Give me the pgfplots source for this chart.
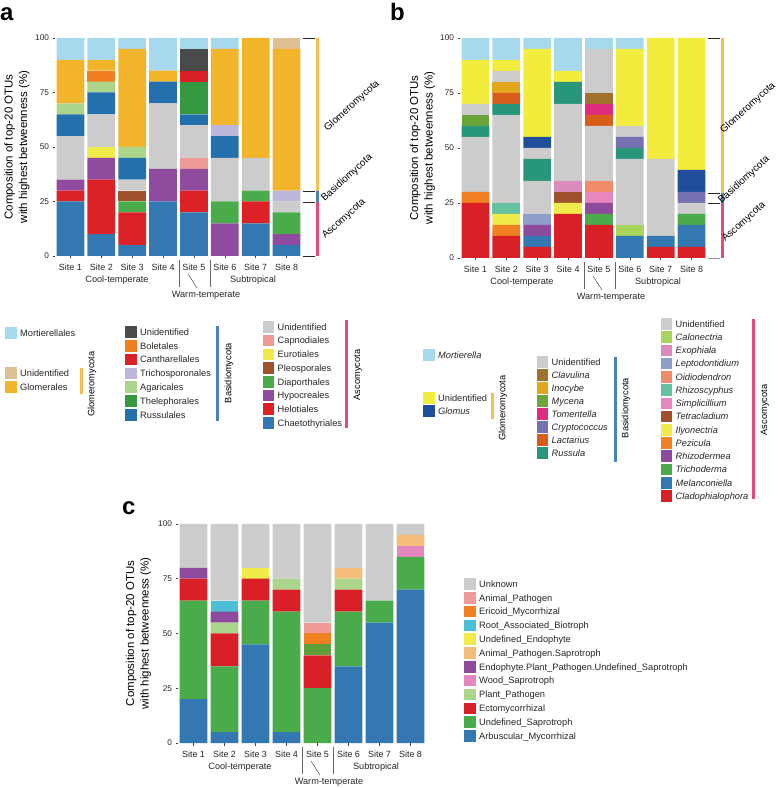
\documentclass[border=0pt]{standalone}
\usepackage{pgfplots}
\pgfplotsset{compat=1.18}
\usepackage{fontspec}
\setmainfont{Liberation Sans}
% panel a colours
\definecolor{mort}{HTML}{A6D8EE}
\definecolor{glomUnid}{HTML}{DFC095}
\definecolor{glomerales}{HTML}{F2B42A}
\definecolor{basUnid}{HTML}{4A4A4A}
\definecolor{bolet}{HTML}{F07F22}
\definecolor{canth}{HTML}{D92027}
\definecolor{tricho}{HTML}{BDB6DA}
\definecolor{agari}{HTML}{ACD58C}
\definecolor{thele}{HTML}{37993F}
\definecolor{russul}{HTML}{2470AC}
\definecolor{ascUnid}{HTML}{CCCCCC}
\definecolor{capno}{HTML}{F09A97}
\definecolor{euro}{HTML}{F0EA4A}
\definecolor{pleo}{HTML}{A0522D}
\definecolor{diapor}{HTML}{4AAB4A}
\definecolor{hypo}{HTML}{8F4B9E}
\definecolor{helot}{HTML}{DC2127}
\definecolor{chaeto}{HTML}{3478B1}
% panel b colours
\definecolor{glomUnidB}{HTML}{F2EC3C}
\definecolor{glomus}{HTML}{1F4E9D}
\definecolor{clavulina}{HTML}{A0712C}
\definecolor{inocybe}{HTML}{E3A71C}
\definecolor{mycena}{HTML}{6AA53A}
\definecolor{tomentella}{HTML}{DF2C80}
\definecolor{crypto}{HTML}{7570B1}
\definecolor{lactarius}{HTML}{D95D1A}
\definecolor{russula}{HTML}{27967A}
\definecolor{calonec}{HTML}{A8D45A}
\definecolor{exoph}{HTML}{DB8BBD}
\definecolor{lepto}{HTML}{8D9FC8}
\definecolor{oidio}{HTML}{F08C6B}
\definecolor{rhizoscy}{HTML}{66C0A2}
\definecolor{simplic}{HTML}{E886BE}
\definecolor{tetra}{HTML}{A0522D}
\definecolor{ilyonec}{HTML}{F0EA4A}
\definecolor{pezicula}{HTML}{F08022}
\definecolor{rhizoderm}{HTML}{8E4A9C}
\definecolor{trichod}{HTML}{4AAA4C}
\definecolor{melanc}{HTML}{3478B1}
\definecolor{clado}{HTML}{D92027}
% panel c colours
\definecolor{unknown}{HTML}{CCCCCC}
\definecolor{animalPath}{HTML}{F19B99}
\definecolor{ericoid}{HTML}{F08022}
\definecolor{rootab}{HTML}{4BBFD6}
\definecolor{undefEndo}{HTML}{F0EA4A}
\definecolor{animalPathSap}{HTML}{F5BD7A}
\definecolor{endoPlant}{HTML}{8E4A9C}
\definecolor{wood}{HTML}{E587BE}
\definecolor{plantPath}{HTML}{ACD58C}
\definecolor{ecto}{HTML}{D92027}
\definecolor{extraGreen}{HTML}{5F9F3A}
\definecolor{undefSap}{HTML}{4AAB4A}
\definecolor{arbusc}{HTML}{3478B1}
% phylum colours
\definecolor{phGlom}{HTML}{F3C04B}
\definecolor{phBas}{HTML}{4A80B8}
\definecolor{phAsc}{HTML}{E04A7F}

\newcommand\ser[9]{\addplot[fill=#1,draw=none] coordinates {(0,#2)(1,#3)(2,#4)(3,#5)(4,#6)(5,#7)(6,#8)(7,#9)};}
\newcommand\lgfont{\fontsize{9.3}{11}\selectfont}
\newcommand\lgd[4]{\fill[#1] ({#2-5.8},{#3-5.8}) rectangle ({#2+5.8},{#3+5.8});
  \node[anchor=base west,inner sep=0pt,font=\lgfont,text=black!85] at ({#2+9},{#3+3.3}) {#4};}
\newcommand\grp[2]{%
  \node[font=\fontsize{9.2}{10}\selectfont,text=black!85] at ({#1+62},{#2+24.5}) {Cool-temperate};
  \node[font=\fontsize{9.2}{10}\selectfont,text=black!85] at ({#1+198},{#2+24.5}) {Subtropical};
  \node[font=\fontsize{9.2}{10}\selectfont,text=black!85] at ({#1+151},{#2+39}) {Warm-temperate};
  \draw[black!60,line width=0.6pt] ({#1+124},{#2+4}) -- ({#1+124},{#2+31});
  \draw[black!60,line width=0.6pt] ({#1+155},{#2+4}) -- ({#1+155},{#2+31});
  \draw[black!70,line width=0.5pt] ({#1+133},{#2+18}) -- ({#1+142},{#2+32});}
\newcommand\ylab[2]{\node[rotate=90,align=center,font=\fontsize{11.5}{14.5}\selectfont] at (#1,#2) {Composition of top-20 OTUs\\with highest betweenness (\%)};}
\newcommand\phy[3]{\node[rotate=42,font=\fontsize{10}{11}\selectfont] at (#1,#2) {#3};}

\pgfplotsset{panel/.style={scale only axis, anchor=south west, ybar stacked, bar width=0.9,
  xmin=-0.5, xmax=7.5, ymin=0, ymax=100, ytick={0,25,50,75,100}, xtick={0,...,7},
  xticklabels={Site 1,Site 2,Site 3,Site 4,Site 5,Site 6,Site 7,Site 8},
  axis line style={draw=none}, tick pos=left, tick align=outside, major tick length=2.5bp,
  tick style={black!75,line width=0.6pt},
  yticklabel style={font=\fontsize{8.3}{9}\selectfont,text=black!85},
  xticklabel style={font=\fontsize{9}{10}\selectfont,text=black!85,yshift=-1.5bp},
  /pgf/number format/assume math mode=true, clip=false, enlargelimits=false}}

\begin{document}
\begin{tikzpicture}
\path[use as bounding box] (0,0) rectangle (778bp,788bp);
% ---------------- panel a
\begin{axis}[panel, at={(55bp,532bp)}, width=247bp, height=218bp]
\ser{chaeto}{25}{10}{5}{25}{20}{0}{15}{5}
\ser{helot}{5}{25}{15}{0}{10}{0}{10}{0}
\ser{hypo}{5}{10}{0}{15}{10}{15}{0}{5}
\ser{diapor}{0}{0}{5}{0}{0}{10}{5}{10}
\ser{pleo}{0}{0}{5}{0}{0}{0}{0}{0}
\ser{euro}{0}{5}{0}{0}{0}{0}{0}{0}
\ser{capno}{0}{0}{0}{0}{5}{0}{0}{0}
\ser{ascUnid}{20}{15}{5}{30}{15}{20}{15}{5}
\ser{russul}{10}{10}{10}{10}{5}{10}{0}{0}
\ser{thele}{0}{0}{0}{0}{15}{0}{0}{0}
\ser{agari}{5}{5}{5}{0}{0}{0}{0}{0}
\ser{tricho}{0}{0}{0}{0}{0}{5}{0}{5}
\ser{canth}{0}{0}{0}{0}{5}{0}{0}{0}
\ser{bolet}{0}{5}{0}{0}{0}{0}{0}{0}
\ser{basUnid}{0}{0}{0}{0}{10}{0}{0}{0}
\ser{glomerales}{20}{5}{45}{5}{0}{35}{55}{65}
\ser{glomUnid}{0}{0}{0}{0}{0}{0}{0}{5}
\ser{mort}{10}{10}{5}{15}{5}{5}{0}{0}
\end{axis}
% ---------------- panel b
\begin{axis}[panel, at={(460bp,530bp)}, width=247bp, height=220bp]
\ser{clado}{25}{10}{5}{20}{15}{0}{5}{5}
\ser{melanc}{0}{0}{5}{0}{0}{10}{5}{10}
\ser{trichod}{0}{0}{0}{0}{5}{0}{0}{5}
\ser{rhizoderm}{0}{0}{5}{0}{5}{0}{0}{0}
\ser{pezicula}{5}{5}{0}{0}{0}{0}{0}{0}
\ser{ilyonec}{0}{5}{0}{5}{0}{0}{0}{0}
\ser{tetra}{0}{0}{0}{5}{0}{0}{0}{0}
\ser{simplic}{0}{0}{0}{0}{5}{0}{0}{0}
\ser{rhizoscy}{0}{5}{0}{0}{0}{0}{0}{0}
\ser{oidio}{0}{0}{0}{0}{5}{0}{0}{0}
\ser{lepto}{0}{0}{5}{0}{0}{0}{0}{0}
\ser{exoph}{0}{0}{0}{5}{0}{0}{0}{0}
\ser{calonec}{0}{0}{0}{0}{0}{5}{0}{0}
\ser{ascUnid}{25}{40}{15}{35}{25}{30}{35}{5}
\ser{russula}{5}{5}{10}{10}{0}{5}{0}{0}
\ser{lactarius}{0}{5}{0}{0}{5}{0}{0}{0}
\ser{crypto}{0}{0}{0}{0}{0}{5}{0}{5}
\ser{tomentella}{0}{0}{0}{0}{5}{0}{0}{0}
\ser{mycena}{5}{0}{0}{0}{0}{0}{0}{0}
\ser{inocybe}{0}{5}{0}{0}{0}{0}{0}{0}
\ser{clavulina}{0}{0}{0}{0}{5}{0}{0}{0}
\ser{ascUnid}{5}{5}{5}{0}{20}{5}{0}{0}
\ser{glomus}{0}{0}{5}{0}{0}{0}{0}{10}
\ser{glomUnidB}{20}{5}{40}{5}{0}{35}{55}{60}
\ser{mort}{10}{10}{5}{15}{5}{5}{0}{0}
\end{axis}
% ---------------- panel c
\begin{axis}[panel, at={(178bp,45bp)}, width=248bp, height=219bp]
\ser{arbusc}{20}{5}{45}{5}{0}{35}{55}{70}
\ser{undefSap}{45}{30}{20}{55}{25}{25}{10}{15}
\ser{ecto}{10}{15}{10}{10}{15}{10}{0}{0}
\ser{extraGreen}{0}{0}{0}{0}{5}{0}{0}{0}
\ser{plantPath}{0}{5}{0}{5}{0}{5}{0}{0}
\ser{wood}{0}{0}{0}{0}{0}{0}{0}{5}
\ser{endoPlant}{5}{5}{0}{0}{0}{0}{0}{0}
\ser{animalPathSap}{0}{0}{0}{0}{0}{5}{0}{5}
\ser{undefEndo}{0}{0}{5}{0}{0}{0}{0}{0}
\ser{rootab}{0}{5}{0}{0}{0}{0}{0}{0}
\ser{ericoid}{0}{0}{0}{0}{5}{0}{0}{0}
\ser{animalPath}{0}{0}{0}{0}{5}{0}{0}{0}
\ser{unknown}{20}{35}{20}{25}{45}{20}{35}{5}
\end{axis}
% ---------------- annotations (top-left origin, 1 unit = 1 px)
\begin{scope}[x=1bp,y=-1bp,yshift=788bp]
\node[anchor=base west,font=\fontsize{24}{24}\selectfont\bfseries,inner sep=0pt] at (0,21) {a};
\node[anchor=base west,font=\fontsize{24}{24}\selectfont\bfseries,inner sep=0pt] at (390,21) {b};
\node[anchor=base west,font=\fontsize{24}{24}\selectfont\bfseries,inner sep=0pt] at (122,515) {c};
\ylab{17}{147}
\ylab{422.5}{148}
\ylab{138.5}{633.5}
\grp{55}{256}
\grp{460}{258}
\grp{178}{743}
% bracket a
\foreach \yy in {38,191,202,256} \draw[black!85,line width=0.7pt] (303,\yy) -- (315,\yy);
\fill[phGlom] (316,38) rectangle (319,191);
\fill[phBas] (316,191) rectangle (319,202);
\fill[phAsc] (316,202) rectangle (319,256);
\phy{352}{106}{Glomeromycota}
\phy{347}{178}{Basidiomycota}
\phy{344}{219}{Ascomycota}
% bracket b
\foreach \yy in {38,193,203} \draw[black!85,line width=0.7pt] (708,\yy) -- (720,\yy);
\draw[black!40,line width=0.7pt] (708,258) -- (720,258);
\fill[phGlom] (721,38) rectangle (724,193);
\fill[phBas] (721,193) rectangle (724,203);
\fill[phAsc] (721,203) rectangle (724,258);
\phy{748}{108}{Glomeromycota}
\phy{744}{180}{Basidiomycota}
\phy{744}{222}{Ascomycota}
% legend a
\lgd{mort}{11}{333}{Mortierellales}
\lgd{glomUnid}{11}{373}{Unidentified}
\lgd{glomerales}{11}{387}{Glomerales}
\fill[phGlom] (80,368) rectangle (82.5,394);
\node[rotate=90,font=\lgfont] at (92,384) {Glomeromycota};
\lgd{basUnid}{131}{332}{Unidentified}
\lgd{bolet}{131}{345.8}{Boletales}
\lgd{canth}{131}{359.7}{Cantharellales}
\lgd{tricho}{131}{373.5}{Trichosporonales}
\lgd{agari}{131}{387.3}{Agaricales}
\lgd{thele}{131}{401.2}{Thelephorales}
\lgd{russul}{131}{415}{Russulales}
\fill[phBas] (216,326) rectangle (218.5,421);
\node[rotate=90,font=\lgfont] at (229,373) {Basidiomycota};
\lgd{ascUnid}{268.5}{327}{Unidentified}
\lgd{capno}{268.5}{340.7}{Capnodiales}
\lgd{euro}{268.5}{354.4}{Eurotiales}
\lgd{pleo}{268.5}{368.1}{Pleosporales}
\lgd{diapor}{268.5}{381.9}{Diaporthales}
\lgd{hypo}{268.5}{395.6}{Hypocreales}
\lgd{helot}{268.5}{409.3}{Helotiales}
\lgd{chaeto}{268.5}{423}{Chaetothyriales}
\fill[phAsc] (345,320) rectangle (347.5,428);
\node[rotate=90,font=\lgfont] at (358,375) {Ascomycota};
% legend b
\lgd{mort}{429}{355}{\itshape Mortierella}
\lgd{glomUnidB}{429}{398}{Unidentified}
\lgd{glomus}{429}{411}{\itshape Glomus}
\fill[phGlom] (491,393) rectangle (493.5,419);
\node[rotate=90,font=\lgfont] at (503,408) {Glomeromycota};
\lgd{ascUnid}{542.5}{362}{Unidentified}
\lgd{clavulina}{542.5}{375}{\itshape Clavulina}
\lgd{inocybe}{542.5}{388}{\itshape Inocybe}
\lgd{mycena}{542.5}{401}{\itshape Mycena}
\lgd{tomentella}{542.5}{414}{\itshape Tomentella}
\lgd{crypto}{542.5}{427}{\itshape Cryptococcus}
\lgd{lactarius}{542.5}{440}{\itshape Lactarius}
\lgd{russula}{542.5}{453}{\itshape Russula}
\fill[phBas] (614,357) rectangle (616.5,462);
\node[rotate=90,font=\lgfont] at (626,408) {Basidiomycota};
\lgd{ascUnid}{666.5}{324}{Unidentified}
\lgd{calonec}{666.5}{337.2}{\itshape Calonectria}
\lgd{exoph}{666.5}{350.5}{\itshape Exophiala}
\lgd{lepto}{666.5}{363.7}{\itshape Leptodontidium}
\lgd{oidio}{666.5}{376.9}{\itshape Oidiodendron}
\lgd{rhizoscy}{666.5}{390.2}{\itshape Rhizoscyphus}
\lgd{simplic}{666.5}{403.4}{\itshape Simplicillium}
\lgd{tetra}{666.5}{416.6}{\itshape Tetracladium}
\lgd{ilyonec}{666.5}{429.8}{\itshape Ilyonectria}
\lgd{pezicula}{666.5}{443.1}{\itshape Pezicula}
\lgd{rhizoderm}{666.5}{456.3}{\itshape Rhizodermea}
\lgd{trichod}{666.5}{469.5}{\itshape Trichoderma}
\lgd{melanc}{666.5}{482.8}{\itshape Melanconiella}
\lgd{clado}{666.5}{496}{\itshape Cladophialophora}
\fill[phAsc] (752,319) rectangle (754.5,499);
\node[rotate=90,font=\lgfont] at (765,410) {Ascomycota};
% legend c
\lgd{unknown}{470}{584}{Unknown}
\lgd{animalPath}{470}{597.8}{Animal\_Pathogen}
\lgd{ericoid}{470}{611.6}{Ericoid\_Mycorrhizal}
\lgd{rootab}{470}{625.5}{Root\_Associated\_Biotroph}
\lgd{undefEndo}{470}{639.3}{Undefined\_Endophyte}
\lgd{animalPathSap}{470}{653.1}{Animal\_Pathogen.Saprotroph}
\lgd{endoPlant}{470}{666.9}{Endophyte.Plant\_Pathogen.Undefined\_Saprotroph}
\lgd{wood}{470}{680.7}{Wood\_Saprotroph}
\lgd{plantPath}{470}{694.5}{Plant\_Pathogen}
\lgd{ecto}{470}{708.4}{Ectomycorrhizal}
\lgd{undefSap}{470}{722.2}{Undefined\_Saprotroph}
\lgd{arbusc}{470}{736}{Arbuscular\_Mycorrhizal}
\end{scope}
\end{tikzpicture}
\end{document}
